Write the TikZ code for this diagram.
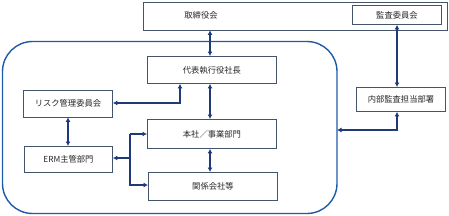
\documentclass[tikz,border=0pt]{standalone}
\usepackage{fontspec}
\setmainfont{Noto Sans CJK JP}
\usetikzlibrary{arrows.meta}
\definecolor{boxline}{HTML}{44546A}
\definecolor{arr}{HTML}{1F3A78}
\definecolor{frame}{HTML}{1F5AA8}
\definecolor{txt}{HTML}{262626}
\begin{document}
\begin{tikzpicture}[x=1pt,y=-1pt,
  bx/.style={draw=boxline,line width=0.9pt,fill=white,text=txt,font=\fontsize{8.3}{10}\selectfont,inner sep=0pt},
  con/.style={draw=arr,line width=1.8pt,{Latex[length=4.5pt,width=5pt]}-{Latex[length=4.5pt,width=5pt]}},
  con1/.style={draw=arr,line width=1.8pt,-{Latex[length=4.5pt,width=5pt]}}]
\useasboundingbox (0,0) rectangle (449,215);
% big rounded frame
\draw[frame,line width=1.4pt,rounded corners=30pt] (2.5,41.5) rectangle (337,213.5);
% boxes
\node[bx,minimum width=304pt,minimum height=28pt,anchor=north west] (board) at (143,1.5) {};
\node[txt,font=\fontsize{8.3}{10}\selectfont] (boardt) at (201,15) {取締役会};
\node[bx,minimum width=89pt,minimum height=19pt,anchor=north west] (audit) at (352,5) {監査委員会};
\node[bx,minimum width=129pt,minimum height=27pt,anchor=north west] (ceo) at (147,56) {代表執行役社長};
\node[bx,minimum width=89pt,minimum height=27pt,anchor=north west] (risk) at (23,89.5) {リスク管理委員会};
\node[bx,minimum width=88pt,minimum height=26pt,anchor=north west] (erm) at (24,146) {ERM主管部門};
\node[bx,minimum width=129pt,minimum height=29pt,anchor=north west] (hq) at (147,119) {本社／事業部門};
\node[bx,minimum width=129pt,minimum height=28pt,anchor=north west] (aff) at (148,172) {関係会社等};
\node[bx,minimum width=89pt,minimum height=24pt,anchor=north west] (ia) at (356,87) {内部監査担当部署};
% connectors
\draw[con] (board.south -| 210,0) -- (ceo.north -| 210,0);
\draw[con] (ceo.south -| 210,0) -- (hq.north -| 210,0);
\draw[con] (hq.south -| 210,0) -- (aff.north -| 210,0);
\draw[con] (audit.south -| 397,0) -- (ia.north -| 397,0);
\draw[con] (ceo.south -| 180,0) |- (risk.east |- 0,103);
\draw[con] (risk.south -| 68,0) -- (erm.north -| 68,0);
\coordinate (br) at (130,158);
\draw[con1] (br) -- (erm.east |- br);
\draw[con1, -] (br) -- (br |- 0,134) ;
\draw[con1] (br |- 0,134) -- (hq.west |- 0,134);
\draw[con1] (br) |- (aff.west |- 0,185);
\draw[con] (ia.south -| 397,0) |- (337,130);
\end{tikzpicture}
\end{document}
